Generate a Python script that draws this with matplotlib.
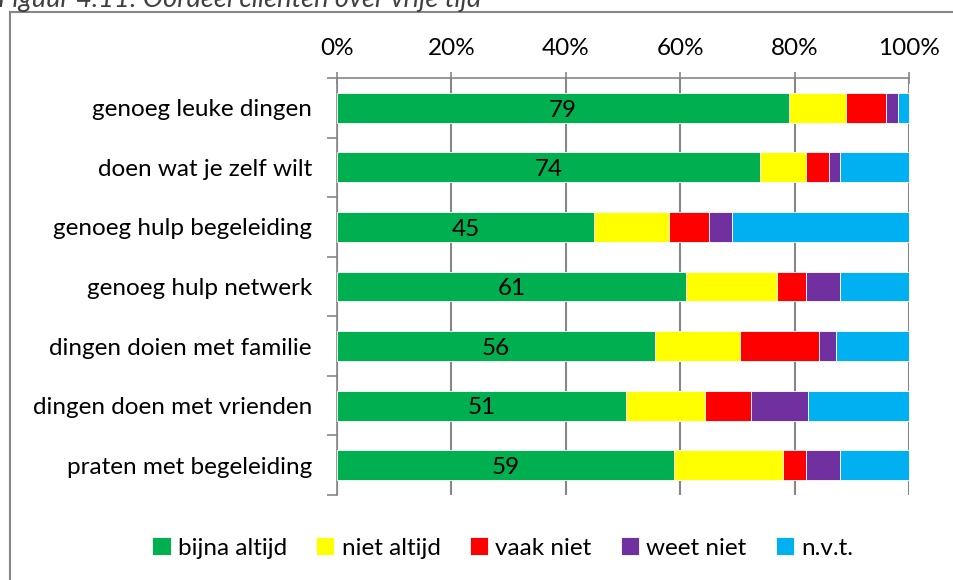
import matplotlib.pyplot as plt
from matplotlib.patches import Rectangle
import numpy as np

plt.rcParams['font.family'] = ['Lato', 'DejaVu Sans']

categories = ["genoeg leuke dingen", "doen wat je zelf wilt", "genoeg hulp begeleiding",
              "genoeg hulp netwerk", "dingen doien met familie", "dingen doen met vrienden",
              "praten met begeleiding"]
series = ["bijna altijd", "niet altijd", "vaak niet", "weet niet", "n.v.t."]
colors = ["#00B050", "#FFFF00", "#FF0000", "#7030A0", "#00B0F0"]

bijna_altijd = [79, 74, 45, 61, 55.6, 50.6, 59]
niet_altijd = [10, 8, 13, 16, 14.8, 13.8, 19]
vaak_niet = [7, 4, 7, 5, 13.8, 7.9, 4]
weet_niet = [2, 2, 4, 6, 3, 10, 6]
nvt = [2, 12, 31, 12, 12.8, 17.7, 12]
values = [bijna_altijd, niet_altijd, vaak_niet, weet_niet, nvt]

grey = "#868686"
fs = 17.5

fig = plt.figure(figsize=(9.54, 5.80), dpi=100)
ax = fig.add_axes([0.3532, 0.1466, 0.5996, 0.719])

y = np.arange(len(categories))
left = np.zeros(len(categories))
for name, vals, col in zip(series, values, colors):
    ax.barh(y, vals, left=left, height=0.5, color=col, edgecolor="white",
            linewidth=0.6, label=name, zorder=3)
    left += np.array(vals)

# waarde van 'bijna altijd' midden in het groene stuk
for i, v in enumerate(bijna_altijd):
    ax.text(v / 2, i + 0.04, "%.0f" % v, ha="center", va="center", fontsize=fs, zorder=4)

ax.set_xlim(0, 100)
ax.set_ylim(len(categories) - 0.5, -0.5)
ax.xaxis.tick_top()
ax.set_xticks(np.arange(0, 101, 20))
ax.set_xticklabels(["%d%%" % t for t in range(0, 101, 20)], fontsize=fs)
ax.tick_params(axis="x", which="both", direction="inout", length=8, color=grey,
               width=1.2, pad=10)
ax.set_yticks(np.arange(-0.5, len(categories), 1))
ax.set_yticklabels([])
ax.set_yticks(y, minor=True)
ax.set_yticklabels(categories, minor=True, fontsize=fs)
ax.tick_params(axis="y", which="major", direction="out", length=7, color=grey, width=1.2)
ax.tick_params(axis="y", which="minor", length=0, pad=18)
ax.grid(axis="x", color=grey, linewidth=1.5, zorder=0)
for s in ["right", "bottom"]:
    ax.spines[s].set_visible(False)
for s in ["top", "left"]:
    ax.spines[s].set_color(grey)
    ax.spines[s].set_linewidth(1.2)

ax.legend(loc="center", bbox_to_anchor=(0.527, 0.055), bbox_transform=fig.transFigure,
          ncol=5, frameon=False, fontsize=fs, handlelength=0.75, handleheight=0.75,
          handletextpad=0.3, columnspacing=1.2)

# kader rond de figuur
fig.patches.append(Rectangle((10 / 954, -0.1), 1.2, 1.1 - 12 / 580, transform=fig.transFigure,
                             fill=False, edgecolor=grey, linewidth=1.5))

fig.text(-0.002, 1 - 7 / 580, "Figuur 4.11: Oordeel cliënten over vrije tijd", fontsize=19.5,
         style="italic", va="baseline", ha="left", color="#404040")

fig.savefig("out.png", dpi=100)
